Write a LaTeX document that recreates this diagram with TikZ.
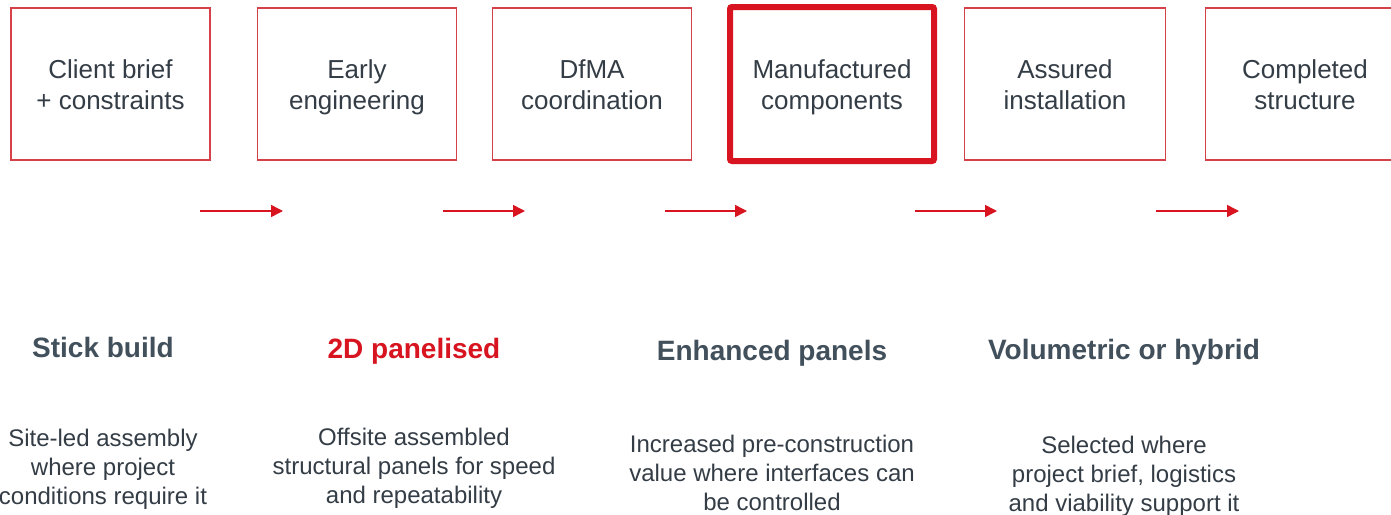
\documentclass[tikz,border=0pt]{standalone}
\usepackage{fontspec}
\setmainfont{Liberation Sans}
\usetikzlibrary{arrows.meta}
\definecolor{accent}{RGB}{215,20,31}
\definecolor{thinred}{RGB}{214,64,72}
\definecolor{ink}{RGB}{52,61,70}
\definecolor{headink}{RGB}{66,80,92}
\newcommand\hitop{\rule{0pt}{29.7pt}}
\newcommand\lobot{\rule[-9.3pt]{0pt}{9.3pt}}
\begin{document}
\begin{tikzpicture}[x=1pt,y=-1pt,
  stage/.style={draw=thinred,line width=1.9pt,minimum width=199pt,minimum height=152pt,
    inner sep=0pt,text=ink,font=\fontsize{26}{31}\selectfont,align=center},
  keystage/.style={stage,draw=accent,line width=6pt,rounded corners=2pt,minimum width=204pt,minimum height=154pt},
  flow/.style={draw=accent,line width=1.5pt,-{Triangle[length=12pt,width=12pt]}},
  heading/.style={anchor=base,text=headink,font=\bfseries\fontsize{28}{32}\selectfont},
  keyheading/.style={heading,text=accent},
  desc/.style={anchor=base,text=ink,align=center,font=\fontsize{24}{29}\selectfont}]
\useasboundingbox[fill=white] (0,0) rectangle (1391,514);
% stages
\node[stage] (s1) at (110.5,84) {\hitop Client brief\\+ constraints\lobot};
\node[stage] (s2) at (357,84) {\hitop Early\\engineering\lobot};
\node[stage] (s3) at (592,84) {\hitop DfMA\\coordination\lobot};
\node[keystage] (s4) at (832,84) {\hitop Manufactured\\components\lobot};
\node[stage,minimum width=201pt] (s5) at (1065,84) {\hitop Assured\\installation\lobot};
\node[stage] (s6) at (1305,84) {\hitop Completed\\structure\lobot};
% arrows
\coordinate (a1s) at (200,211); \coordinate (a1e) at (283,211);
\coordinate (a2s) at (443,211); \coordinate (a2e) at (525,211);
\coordinate (a3s) at (665,211); \coordinate (a3e) at (747,211);
\coordinate (a4s) at (915,211); \coordinate (a4e) at (997,211);
\coordinate (a5s) at (1156,211); \coordinate (a5e) at (1239,211);
\draw[flow] (a1s) -- (a1e);
\draw[flow] (a2s) -- (a2e);
\draw[flow] (a3s) -- (a3e);
\draw[flow] (a4s) -- (a4e);
\draw[flow] (a5s) -- (a5e);
% headings
\node[heading] (h1) at (103,357) {Stick build};
\node[keyheading] (h2) at (414,358) {2D panelised};
\node[heading] (h3) at (772,360) {Enhanced panels};
\node[heading] (h4) at (1124,359) {Volumetric or hybrid};
% descriptions (base = last line's baseline)
\node[desc] (d1) at (103,504) {Site-led assembly\\where project\\conditions require it};
\node[desc] (d2) at (414,503) {Offsite assembled\\structural panels for speed\\and repeatability};
\node[desc] (d3) at (772,510) {Increased pre-construction\\value where interfaces can\\be controlled};
\node[desc] (d4) at (1124,511) {Selected where\\project brief, logistics\\and viability support it};
\end{tikzpicture}
\end{document}
